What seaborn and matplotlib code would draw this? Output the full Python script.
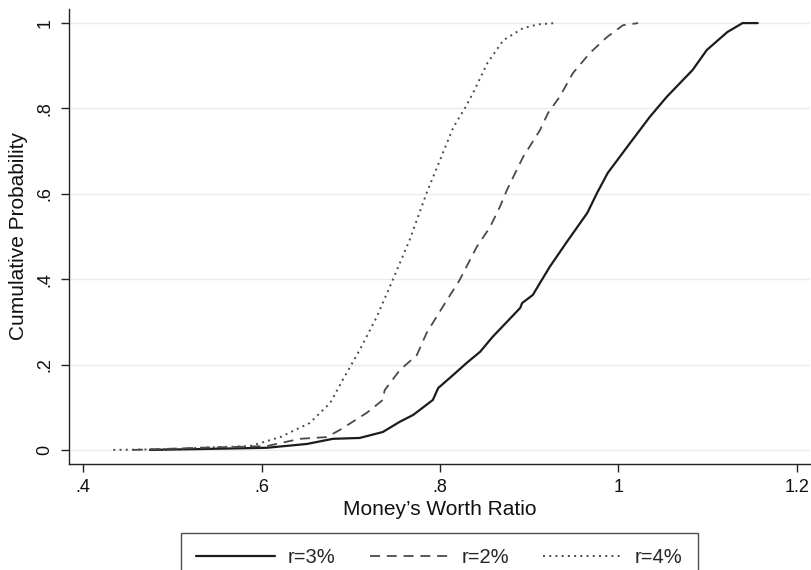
import pandas as pd
import seaborn as sns
import matplotlib
matplotlib.use("Agg")
import matplotlib.pyplot as plt

r3_x = [0.475, 0.531, 0.606, 0.651, 0.680, 0.710, 0.736, 0.755, 0.770, 0.792, 0.798,
        0.815, 0.830, 0.845, 0.859, 0.875, 0.890, 0.892, 0.904, 0.912, 0.923, 0.942,
        0.965, 0.976, 0.988, 1.013, 1.035, 1.054, 1.083, 1.099, 1.122, 1.139, 1.156]
r3_y = [0.0, 0.002, 0.005, 0.014, 0.026, 0.028, 0.042, 0.066, 0.082, 0.117, 0.145,
        0.176, 0.204, 0.230, 0.265, 0.300, 0.333, 0.344, 0.363, 0.391, 0.429, 0.487,
        0.555, 0.602, 0.649, 0.719, 0.780, 0.827, 0.890, 0.937, 0.979, 1.0, 1.0]

r2_x = [0.456, 0.531, 0.606, 0.643, 0.673, 0.688, 0.718, 0.736, 0.738, 0.755, 0.774,
        0.785, 0.803, 0.822, 0.841, 0.856, 0.867, 0.875, 0.893, 0.912, 0.921, 0.934,
        0.949, 0.968, 0.987, 1.005, 1.022]
r2_y = [0.0, 0.005, 0.009, 0.026, 0.030, 0.047, 0.087, 0.117, 0.140, 0.187, 0.222,
        0.274, 0.335, 0.398, 0.475, 0.522, 0.569, 0.609, 0.686, 0.749, 0.789, 0.827,
        0.883, 0.930, 0.967, 0.995, 1.0]

r4_x = [0.434, 0.470, 0.500, 0.531, 0.587, 0.621, 0.654, 0.677, 0.691, 0.710, 0.729,
        0.747, 0.766, 0.785, 0.800, 0.815, 0.828, 0.837, 0.853, 0.871, 0.893, 0.910, 0.929]
r4_y = [0.0, 0.001, 0.002, 0.005, 0.009, 0.030, 0.063, 0.110, 0.164, 0.234, 0.311,
        0.398, 0.492, 0.602, 0.679, 0.756, 0.801, 0.836, 0.906, 0.960, 0.988, 0.997, 1.0]

series_labels = ["r=3%", "r=2%", "r=4%"]
x_ticks = [0.4, 0.6, 0.8, 1.0, 1.2]
x_ticklabels = [".4", ".6", ".8", "1", "1.2"]
y_ticks = [0, 0.2, 0.4, 0.6, 0.8, 1.0]
y_ticklabels = ["0", ".2", ".4", ".6", ".8", "1"]

sns.set_theme(style="white")
plt.rcParams["font.family"] = ["Liberation Sans", "DejaVu Sans"]

fig = plt.figure(figsize=(8.12, 5.70), dpi=100)
ax = fig.add_axes([69 / 812, 1 - 464 / 570, 741 / 812, 455 / 570])

styles = [
    (r3_x, r3_y, "#1c1c1c", 1.6, "-"),
    (r2_x, r2_y, "#4a4a4a", 1.3, (0, (5.5, 3.8))),
    (r4_x, r4_y, "#4a4a4a", 1.4, (0, (1, 2.2))),
]
for (xs, ys, col, lw, ls), lab in zip(styles, series_labels):
    df = pd.DataFrame({"x": xs, "y": ys})
    sns.lineplot(data=df, x="x", y="y", ax=ax, color=col, linewidth=lw,
                 linestyle=ls, estimator=None, sort=False, label=lab, legend=False)

ax.set_xlim(0.3843, 1.2146)
ax.set_ylim(-0.033, 1.033)
ax.set_xticks(x_ticks)
ax.set_xticklabels(x_ticklabels)
ax.set_yticks(y_ticks)
ax.set_yticklabels(y_ticklabels, rotation=90, va="center")

ax.grid(axis="y", color="#ebebeb", linewidth=1.0)
ax.grid(axis="x", visible=False)
ax.set_axisbelow(True)
for side in ("top", "right"):
    ax.spines[side].set_visible(False)
for side in ("left", "bottom"):
    ax.spines[side].set_color("#222222")
    ax.spines[side].set_linewidth(1.0)

ax.tick_params(axis="both", which="major", direction="out", length=6, width=1.0,
               color="#222222", labelsize=13, pad=5, bottom=True, left=True,
               labelcolor="#111111")

ax.set_xlabel("Money\u2019s Worth Ratio", fontsize=15, labelpad=3, color="#111111")
ax.set_ylabel("Cumulative Probability", fontsize=15, labelpad=6, color="#111111")

handles, labels = ax.get_legend_handles_labels()
leg = fig.legend(handles, labels, loc="upper center", bbox_to_anchor=(439.5 / 812, 1 - 533 / 570),
                 ncol=3, frameon=True, fancybox=False, edgecolor="#222222",
                 fontsize=14.5, handlelength=3.9, columnspacing=1.7, handletextpad=0.65,
                 borderpad=0.75, borderaxespad=0)
leg.get_frame().set_linewidth(1.0)

fig.savefig("out.png", dpi=100)
